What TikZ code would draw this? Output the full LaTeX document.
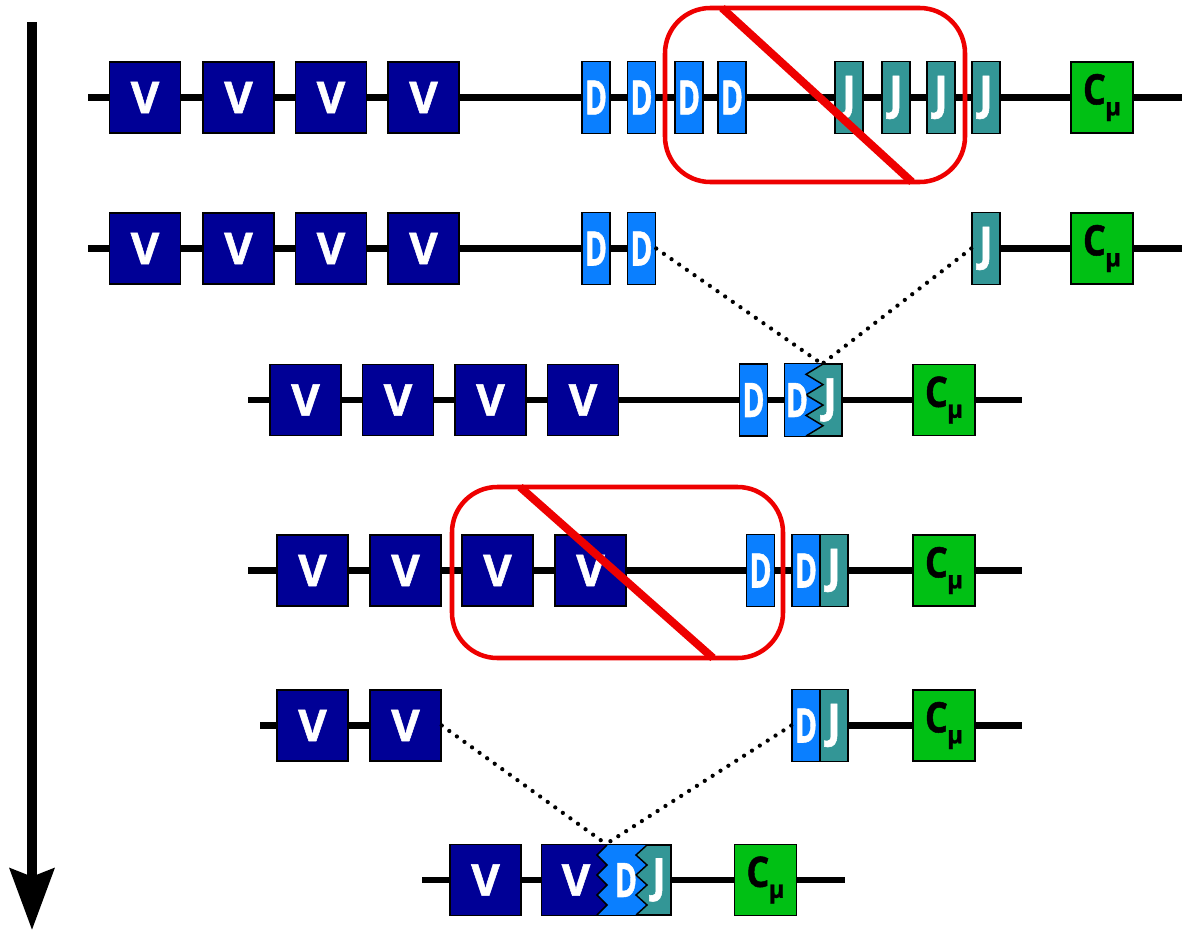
\documentclass[tikz,border=0pt]{standalone}
\usepackage{fontspec}
\usepackage{graphicx}
\setmainfont{Open Sans}[BoldFeatures={FakeBold=1.2}]
\usetikzlibrary{arrows.meta}
\pgfdeclarelayer{background}
\pgfsetlayers{background,main}
\definecolor{vcol}{RGB}{0,0,150}
\definecolor{dcol}{RGB}{10,127,255}
\definecolor{jcol}{RGB}{51,150,150}
\definecolor{ccol}{RGB}{0,192,20}
\definecolor{rcol}{RGB}{238,0,0}
\newcommand\Dlet{\scalebox{0.68}[1.08]{D}}
\newcommand\Jlet{\scalebox{0.92}[1.06]{J}}
\newcommand\Clet{\scalebox{0.9}[1.05]{C}\hspace{-0.5pt}\raisebox{-0.5ex}{\fontsize{18}{18}\selectfont μ}}
\tikzset{
  gene/.style={draw=black, line width=1.1pt, inner sep=0pt,
    font=\bfseries\fontsize{33}{33}\selectfont, text=white},
  vseg/.style={gene, fill=vcol, minimum width=53.25pt, minimum height=53.25pt},
  dseg/.style={gene, fill=dcol, minimum width=21pt, minimum height=54pt},
  jseg/.style={gene, fill=jcol, minimum width=21pt, minimum height=54pt},
  cseg/.style={gene, fill=ccol, minimum width=46.5pt, minimum height=53.5pt,
    text=black, font=\bfseries\fontsize{30}{30}\selectfont},
  bare/.style={inner sep=0pt, text=white, font=\bfseries\fontsize{33}{33}\selectfont},
  dna/.style={line width=5pt},
  joinline/.style={line width=3.2pt, dash pattern=on 0pt off 7pt, line cap=round},
  ring/.style={draw=rcol, line width=3.4pt, rounded corners=34pt},
  cross/.style={draw=rcol, line width=6pt},
  zig/.style={draw=black, line width=1.1pt},
  timearrow/.style={line width=7pt, -{Stealth[length=46pt,width=33pt,inset=6pt]}}
}
\begin{document}
\begin{tikzpicture}[x=0.75pt,y=-0.75pt]
\useasboundingbox (0,0) rectangle (1182,935);

% time arrow
\coordinate (tA) at (32,22);
\coordinate (tB) at (32,930);
\draw[timearrow] (tA) -- (tB);

% ---------------- row 1 ----------------
\coordinate (r1a) at (88,97.5);
\coordinate (r1b) at (1182,97.5);
\node[vseg] (v11) at (145,97.5) {V};
\node[vseg] (v12) at (238.5,97.5) {V};
\node[vseg] (v13) at (331,97.5) {V};
\node[vseg] (v14) at (423.5,97.5) {V};
\node[dseg] (d11) at (596,97.5) {\Dlet};
\node[dseg] (d12) at (641.5,97.5) {\Dlet};
\node[dseg] (d13) at (689,97.5) {\Dlet};
\node[dseg] (d14) at (732,97.5) {\Dlet};
\node[jseg] (j11) at (849,97.5) {\Jlet};
\node[jseg] (j12) at (896,97.5) {\Jlet};
\node[jseg] (j13) at (941,97.5) {\Jlet};
\node[jseg] (j14) at (986,97.5) {\Jlet};
\node[cseg] (c1) at (1102,97.5) {\Clet};
\begin{pgfonlayer}{background}
\draw[dna] (r1a) -- (r1b);
\end{pgfonlayer}
\draw[ring] (665,8) rectangle (965,182);
\draw[cross] (722,8) -- (912,182);

% ---------------- row 2 ----------------
\coordinate (r2a) at (88,248.5);
\coordinate (r2b) at (1182,248.5);
\node[vseg] (v21) at (145,248.5) {V};
\node[vseg] (v22) at (238.5,248.5) {V};
\node[vseg] (v23) at (331,248.5) {V};
\node[vseg] (v24) at (423.5,248.5) {V};
\node[dseg] (d21) at (596,248.5) {\Dlet};
\node[dseg] (d22) at (641.5,248.5) {\Dlet};
\node[jseg] (j21) at (986,248.5) {\Jlet};
\node[cseg] (c2) at (1102,248.5) {\Clet};
\begin{pgfonlayer}{background}
\draw[dna] (r2a) -- (d22.center);
\draw[dna] (j21.center) -- (r2b);
\end{pgfonlayer}

% ---------------- row 3 ----------------
\coordinate (r3a) at (248,400);
\coordinate (r3b) at (1022,400);
\node[vseg] (v31) at (305.5,400) {V};
\node[vseg] (v32) at (398,400) {V};
\node[vseg] (v33) at (490.5,400) {V};
\node[vseg] (v34) at (583,400) {V};
\node[dseg] (d31) at (753.5,400) {\Dlet};
\node[gene, fill=jcol, minimum width=42.75pt, minimum height=54pt] (dj3) at (813.5,400) {};
\fill[dcol] (785,364) -- (823,364) -- (806,374.3) -- (823,384.6) -- (806,394.9) -- (823,405.1) -- (806,415.4) -- (823,425.7) -- (806,436) -- (785,436) -- cycle;
\draw[zig] (823,364) -- (806,374.3) -- (823,384.6) -- (806,394.9) -- (823,405.1) -- (806,415.4) -- (823,425.7) -- (806,436);
\draw[line width=1.1pt] (dj3.south west) rectangle (dj3.north east);
\node[bare] (dj3d) at (797,400) {\Dlet};
\node[bare] (dj3j) at (830,400) {\Jlet};
\node[cseg] (c3) at (944,400) {\Clet};
\begin{pgfonlayer}{background}
\draw[dna] (r3a) -- (r3b);
\end{pgfonlayer}
\coordinate (m3) at (822,364);
\draw[joinline] (d22.east) -- (m3);
\draw[joinline] (j21.west) -- (m3);

% ---------------- row 4 ----------------
\coordinate (r4a) at (248,570.5);
\coordinate (r4b) at (1022,570.5);
\node[vseg] (v41) at (312.5,570.5) {V};
\node[vseg] (v42) at (405.5,570.5) {V};
\node[vseg] (v43) at (497.5,570.5) {V};
\node[vseg] (v44) at (590.5,570.5) {V};
\node[dseg] (d41) at (760.5,570.5) {\Dlet};
\node[dseg] (d42) at (806,570.5) {\Dlet};
\node[jseg] (j41) at (834,570.5) {\Jlet};
\node[cseg] (c4) at (944,570.5) {\Clet};
\begin{pgfonlayer}{background}
\draw[dna] (r4a) -- (r4b);
\end{pgfonlayer}
\draw[ring] (452,487) rectangle (783,658);
\draw[cross] (520,487) -- (713,658);

% ---------------- row 5 ----------------
\coordinate (r5a) at (260,725.5);
\coordinate (r5b) at (1022,725.5);
\node[vseg] (v51) at (312.5,725.5) {V};
\node[vseg] (v52) at (405.5,725.5) {V};
\node[dseg] (d51) at (806,725.5) {\Dlet};
\node[jseg] (j51) at (834,725.5) {\Jlet};
\node[cseg] (c5) at (944,725.5) {\Clet};
\begin{pgfonlayer}{background}
\draw[dna] (r5a) -- (v52.center);
\draw[dna] (j51.center) -- (r5b);
\end{pgfonlayer}

% ---------------- row 6 ----------------
\coordinate (r6a) at (422,880);
\coordinate (r6b) at (845,880);
\node[vseg] (v61) at (485.5,880) {V};
\node[gene, fill=jcol, minimum width=96.75pt, minimum height=52.5pt] (vdj6) at (606.5,880) {};
\fill[dcol] (542,845) -- (647,845) -- (636,855) -- (647,865) -- (636,875) -- (647,885) -- (636,895) -- (647,905) -- (636,915) -- (542,915) -- cycle;
\fill[vcol] (542,845) -- (607,845) -- (597,855) -- (607,865) -- (597,875) -- (607,885) -- (597,895) -- (607,905) -- (597,915) -- (542,915) -- cycle;
\draw[zig] (607,845) -- (597,855) -- (607,865) -- (597,875) -- (607,885) -- (597,895) -- (607,905) -- (597,915);
\draw[zig] (647,845) -- (636,855) -- (647,865) -- (636,875) -- (647,885) -- (636,895) -- (647,905) -- (636,915);
\draw[line width=1.1pt] (vdj6.south west) rectangle (vdj6.north east);
\node[bare] (vdj6v) at (576,880) {V};
\node[bare] (vdj6d) at (626,880) {\Dlet};
\node[bare] (vdj6j) at (659,880) {\Jlet};
\node[cseg] (c6) at (765.5,880) {\Clet};
\begin{pgfonlayer}{background}
\draw[dna] (r6a) -- (r6b);
\end{pgfonlayer}
\coordinate (m6) at (606,844);
\draw[joinline] (v52.east) -- (m6);
\draw[joinline] (d51.west) -- (m6);
\end{tikzpicture}
\end{document}
